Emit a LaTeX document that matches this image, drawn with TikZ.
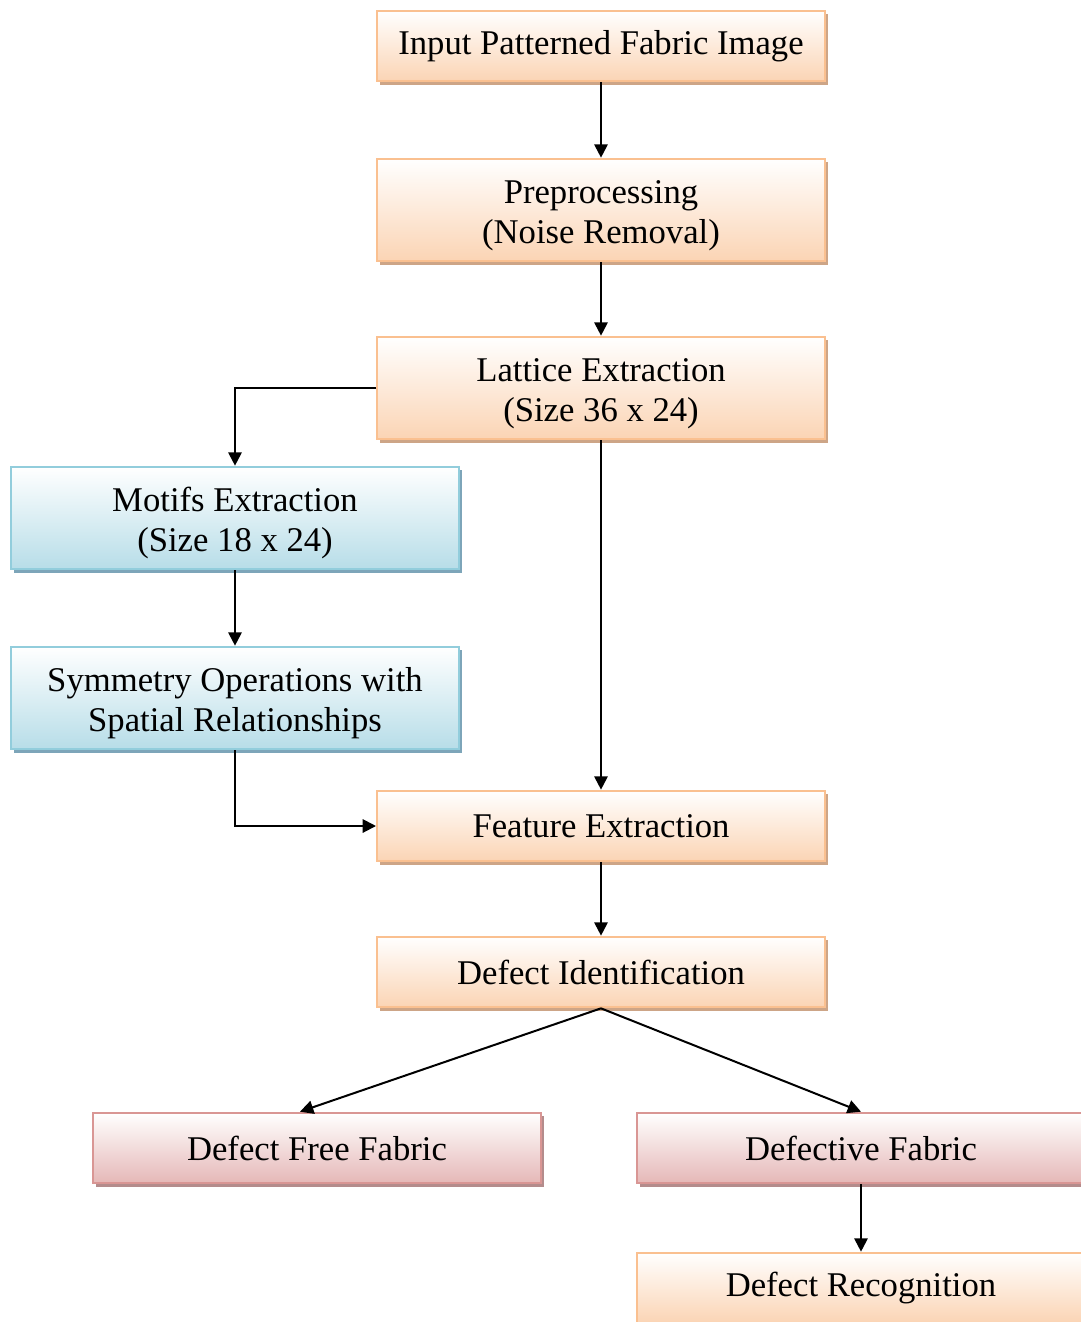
\documentclass[tikz,border=0pt]{standalone}
\usepackage{fontspec}
\setmainfont{Liberation Serif}
\usetikzlibrary{arrows.meta,shadows,positioning}
\definecolor{obord}{RGB}{250,192,144}
\definecolor{obot}{RGB}{251,212,180}
\definecolor{oshad}{RGB}{205,165,135}
\definecolor{bbord}{RGB}{146,205,220}
\definecolor{bbot}{RGB}{183,221,232}
\definecolor{bshad}{RGB}{125,165,185}
\definecolor{rbord}{RGB}{217,150,148}
\definecolor{rbot}{RGB}{229,184,183}
\definecolor{rshad}{RGB}{180,140,140}
\newcommand{\topstrut}{\rule{0pt}{26pt}}
\tikzset{
  boxbase/.style={rectangle, line width=1.5pt, minimum width=336pt, align=center,
    font=\fontsize{26pt}{30pt}\selectfont, inner sep=0pt},
  obox/.style={boxbase, draw=obord, top color=white, bottom color=obot,
    drop shadow={shadow xshift=2.5pt, shadow yshift=-2.5pt, fill=oshad, opacity=1}},
  bbox/.style={boxbase, draw=bbord, top color=white, bottom color=bbot,
    drop shadow={shadow xshift=2.5pt, shadow yshift=-2.5pt, fill=bshad, opacity=1}},
  rbox/.style={boxbase, draw=rbord, top color=white, bottom color=rbot,
    drop shadow={shadow xshift=2.5pt, shadow yshift=-2.5pt, fill=rshad, opacity=1}},
  short/.style={minimum height=53pt},
  tall/.style={minimum height=77pt},
  conn/.style={line width=1.5pt, -{Triangle[length=10pt,width=10pt]}}
}
\begin{document}
\begin{tikzpicture}[x=0.75pt,y=-0.75pt]
\useasboundingbox (0,0) rectangle (1081,1322);
\node[obox,short] (inp) at (601,46) {Input Patterned Fabric Image};
\node[obox,tall] (pre) at (601,210) {\topstrut Preprocessing\\(Noise Removal)};
\node[obox,tall] (lat) at (601,388) {\topstrut Lattice Extraction\\(Size 36 x 24)};
\node[bbox,tall] (mot) at (235,518) {\topstrut Motifs Extraction\\(Size 18 x 24)};
\node[bbox,tall] (sym) at (235,698) {\topstrut Symmetry Operations with\\Spatial Relationships};
\node[obox,short] (fea) at (601,826) {Feature Extraction};
\node[obox,short] (did) at (601,972) {Defect Identification};
\node[rbox,short] (dff) at (317,1148) {Defect Free Fabric};
\node[rbox,short] (dfc) at (861,1148) {Defective Fabric};
\node[obox,short] (rec) at (861,1288) {Defect Recognition};
\draw[conn] (inp.south) -- (pre.north);
\draw[conn] (pre.south) -- (lat.north);
\draw[conn] (lat.west) -| (mot.north);
\draw[conn] (mot.south) -- (sym.north);
\draw[conn] (lat.south) -- (fea.north);
\draw[conn] (sym.south) |- (fea.west);
\draw[conn] (fea.south) -- (did.north);
\draw[conn] (did.south) -- ([xshift=-17*0.75pt]dff.north);
\draw[conn] (did.south) -- (dfc.north);
\draw[conn] (dfc.south) -- (rec.north);
\end{tikzpicture}
\end{document}
